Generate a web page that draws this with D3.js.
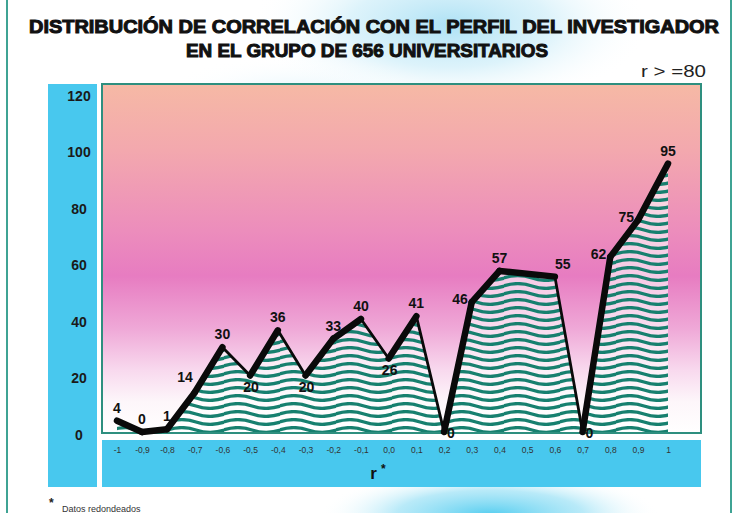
<!DOCTYPE html>
<html><head><meta charset="utf-8">
<script src="https://cdn.jsdelivr.net/npm/d3@7"></script>
<style>html,body{margin:0;padding:0;background:#fff;}svg{display:block;}</style>
</head><body>
<script>
// ---- data ----
const categories = [-1,-0.9,-0.8,-0.7,-0.6,-0.5,-0.4,-0.3,-0.2,-0.1,0.0,0.1,0.2,0.3,0.4,0.6,0.7,0.8,0.9,1];
const values     = [4,0,1,14,30,20,36,20,33,40,26,41,0,46,57,55,0,62,75,95];
const labelPlacement = ["above","above","above","upper-left","above","below","above","below","above","above","below","above","right","left","above","above-right","right","left","left","above"];
const xTickValues = [-1,-0.9,-0.8,-0.7,-0.6,-0.5,-0.4,-0.3,-0.2,-0.1,0.0,0.1,0.2,0.3,0.4,0.5,0.6,0.7,0.8,0.9,1];
const xTickLabels = ["-1","-0,9","-0,8","-0,7","-0,6","-0,5","-0,4","-0,3","-0,2","-0,1","0,0","0,1","0,2","0,3","0,4","0,5","0,6","0,7","0,8","0,9","1"];
const yTickValues = [0,20,40,60,80,100,120];
const titleLines = ["DISTRIBUCIÓN DE CORRELACIÓN CON EL PERFIL DEL INVESTIGADOR","EN EL GRUPO DE 656 UNIVERSITARIOS"];
const subtitle = "r > =80";
const xAxisTitle = "r";
const footnote = "Datos redondeados";

// ---- layout ----
const W = 735, H = 513;
const box = {x0:102, x1:701, y0:84, y1:433};
const svg = d3.select("body").append("svg").attr("width", W).attr("height", H);
const defs = svg.append("defs");

const x = d3.scaleLinear().domain([-1,-0.9,-0.8,0.9,1]).range([117,142,167,638,668]);
const y = d3.scaleLinear().domain([0,120]).range([432,93]);

// background haze
function radial(id, stops){
  const g = defs.append("radialGradient").attr("id", id);
  stops.forEach(s=>g.append("stop").attr("offset",s[0]).attr("stop-color",s[1]).attr("stop-opacity",s[2]));
}
radial("hazeTop", [[0,"#9fdcf3",0.85],[0.5,"#c6ebf8",0.6],[1,"#ffffff",0]]);
radial("hazeBot", [[0,"#4ccbef",0.95],[0.55,"#8adcf4",0.6],[1,"#ffffff",0]]);
radial("hazeMid", [[0,"#d7f1fb",0.7],[1,"#ffffff",0]]);
svg.append("rect").attr("width",W).attr("height",H).attr("fill","#ffffff");
svg.append("ellipse").attr("cx",450).attr("cy",25).attr("rx",200).attr("ry",85).attr("fill","url(#hazeTop)");
svg.append("ellipse").attr("cx",300).attr("cy",95).attr("rx",140).attr("ry",40).attr("fill","url(#hazeMid)");
svg.append("ellipse").attr("cx",490).attr("cy",515).attr("rx",170).attr("ry",45).attr("fill","url(#hazeBot)");

// outer side borders
svg.append("line").attr("x1",7).attr("x2",7).attr("y1",0).attr("y2",H).attr("stroke","#3fa394").attr("stroke-width",2);
svg.append("line").attr("x1",731).attr("x2",731).attr("y1",0).attr("y2",H).attr("stroke","#3fa394").attr("stroke-width",2);

// title
const font = "'Liberation Sans', Arial, sans-serif";
svg.append("text").attr("x",29).attr("y",33).attr("textLength",690).attr("lengthAdjust","spacingAndGlyphs")
  .attr("font-family",font).attr("font-weight","bold").attr("font-size",18.5).attr("fill","#111")
  .attr("stroke","#111").attr("stroke-width",1).text(titleLines[0]);
svg.append("text").attr("x",186).attr("y",57).attr("textLength",362).attr("lengthAdjust","spacingAndGlyphs")
  .attr("font-family",font).attr("font-weight","bold").attr("font-size",18.5).attr("fill","#111")
  .attr("stroke","#111").attr("stroke-width",1).text(titleLines[1]);
svg.append("text").attr("x",706).attr("y",77).attr("text-anchor","end").attr("textLength",65).attr("lengthAdjust","spacingAndGlyphs")
  .attr("font-family",font).attr("font-size",17).attr("fill","#222").text(subtitle);

// y band & x band
const cyan = "#48c8ee";
svg.append("rect").attr("x",48).attr("y",84).attr("width",49).attr("height",403).attr("fill",cyan);
svg.append("rect").attr("x",102).attr("y",440).attr("width",599).attr("height",47).attr("fill",cyan);

// plot box gradient
const lg = defs.append("linearGradient").attr("id","pinkGrad").attr("x1",0).attr("x2",0).attr("y1",0).attr("y2",1);
[[0,"#f6b9a5"],[0.19,"#f3a8ae"],[0.42,"#ec8dbc"],[0.55,"#e77cc1"],[0.70,"#efa8d7"],[0.82,"#f8d9ee"],[0.91,"#fdf6fa"],[1,"#ffffff"]]
  .forEach(s=>lg.append("stop").attr("offset",s[0]).attr("stop-color",s[1]));
svg.append("rect").attr("x",box.x0).attr("y",box.y0).attr("width",box.x1-box.x0).attr("height",box.y1-box.y0)
  .attr("fill","url(#pinkGrad)").attr("stroke","#2e8f7f").attr("stroke-width",2);

// wave pattern
const PW = 56, PH = 8, amp = 2.4;
const pat = defs.append("pattern").attr("id","waves").attr("patternUnits","userSpaceOnUse")
  .attr("width",PW).attr("height",PH).attr("x",0).attr("y",2);
pat.append("rect").attr("width",PW).attr("height",PH).attr("fill","#ffffff").attr("fill-opacity",0.6);
[-PH,0,PH].forEach(o=>{
  const c = PH/2 + o;
  pat.append("path").attr("d",`M-1,${c} Q${PW/4},${c-2*amp} ${PW/2},${c} T${PW+1},${c}`)
    .attr("fill","none").attr("stroke","#17806f").attr("stroke-width",3.3);
});

const pts = categories.map((c,i)=>({c, v:values[i]}));
const area = d3.area().x(d=>x(d.c)).y0(y(0)).y1(d=>y(d.v));
svg.append("path").datum(pts).attr("d",area).attr("fill","url(#waves)");

// line segments (rising thick, falling thin)
for(let i=0;i<pts.length-1;i++){
  const a=pts[i], b=pts[i+1];
  const thin = b.v < a.v - 5;
  svg.append("line").attr("x1",x(a.c)).attr("y1",y(a.v)).attr("x2",x(b.c)).attr("y2",y(b.v))
    .attr("stroke","#0a0a0a").attr("stroke-width",thin?2.8:6.5).attr("stroke-linecap","round");
}

// value labels
const place = {
  "above":      {dx:0,  dy:-8, anchor:"middle"},
  "below":      {dx:1,  dy:16, anchor:"middle"},
  "left":       {dx:-4, dy:2,  anchor:"end"},
  "upper-left": {dx:-2, dy:-10,anchor:"end"},
  "right":      {dx:3,  dy:6,  anchor:"start"},
  "above-right":{dx:8,  dy:-8, anchor:"middle"}
};
svg.append("g").selectAll("text").data(pts).join("text")
  .attr("x",(d,i)=>x(d.c)+place[labelPlacement[i]].dx)
  .attr("y",(d,i)=>y(d.v)+place[labelPlacement[i]].dy)
  .attr("text-anchor",(d,i)=>place[labelPlacement[i]].anchor)
  .attr("font-family",font).attr("font-weight","bold").attr("font-size",14).attr("fill","#111")
  .text(d=>d.v);

// y axis labels
const yAxis = d3.axisLeft(y).tickValues(yTickValues).tickSize(0).tickPadding(0);
const gy = svg.append("g").attr("transform","translate(79,3)").call(yAxis);
gy.select(".domain").remove();
gy.selectAll("text").attr("text-anchor","middle").attr("font-family",font).attr("font-weight","bold")
  .attr("font-size",14).attr("fill","#1a1a1a");

// x axis labels
const xAxis = d3.axisBottom(x).tickValues(xTickValues).tickFormat((d,i)=>xTickLabels[i]).tickSize(0).tickPadding(0);
const gx = svg.append("g").attr("transform","translate(0,447)").call(xAxis);
gx.select(".domain").remove();
gx.selectAll("text").attr("font-family",font).attr("font-size",8.5).attr("fill","#333");

// x axis title
const xt = svg.append("text").attr("x",378).attr("y",479).attr("text-anchor","middle")
  .attr("font-family",font).attr("font-weight","bold").attr("font-size",17).attr("fill","#111");
xt.append("tspan").text(xAxisTitle);
xt.append("tspan").attr("dx",4).attr("dy",-6).attr("font-size",12).text("*");

// footnote
svg.append("text").attr("x",49).attr("y",507).attr("font-family",font).attr("font-weight","bold").attr("font-size",12).attr("fill","#222").text("*");
svg.append("text").attr("x",62).attr("y",512).attr("font-family",font).attr("font-size",9).attr("fill","#333").text(footnote);
</script>
</body></html>
